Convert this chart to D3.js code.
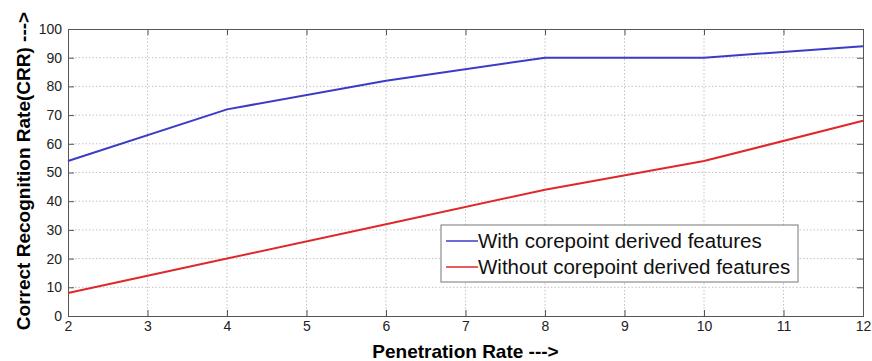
<!DOCTYPE html>
<html>
<head>
<meta charset="utf-8">
<style>
  body { margin: 0; background: #fff; }
  svg { display: block; font-family: "Liberation Sans", Arial, sans-serif; }
</style>
</head>
<body>
<svg id="chart"></svg>
<script src="https://d3js.org/d3.v7.min.js"></script>
<script>
  const penetration = [2, 4, 6, 8, 10, 12];
  const withCore = [54, 72, 82, 90, 90, 94];
  const withoutCore = [8, 20, 32, 44, 54, 68];
  const xTicks = [2, 3, 4, 5, 6, 7, 8, 9, 10, 11, 12];
  const yTicks = [0, 10, 20, 30, 40, 50, 60, 70, 80, 90, 100];
  const seriesNames = ["With corepoint derived features", "Without corepoint derived features"];

  const width = 872, height = 361;
  const margin = { top: 29, right: 9, bottom: 45, left: 68 };

  const svg = d3.select("#chart")
    .attr("width", width)
    .attr("height", height)
    .attr("viewBox", [0, 0, width, height]);

  const x = d3.scaleLinear().domain([2, 12]).range([margin.left, width - margin.right]);
  const y = d3.scaleLinear().domain([0, 100]).range([height - margin.bottom, margin.top]);

  // dotted grid
  const grid = svg.append("g").attr("stroke", "#c4c4c4").attr("stroke-dasharray", "1.5,2");
  grid.selectAll("line.v").data(xTicks.slice(1, -1)).join("line")
    .attr("x1", d => x(d)).attr("x2", d => x(d))
    .attr("y1", y(0)).attr("y2", y(100));
  grid.selectAll("line.h").data(yTicks.slice(1, -1)).join("line")
    .attr("x1", x(2)).attr("x2", x(12))
    .attr("y1", d => y(d)).attr("y2", d => y(d));

  // axes with inward ticks, matlab style box
  const axisColor = "#555";
  svg.append("g")
    .attr("transform", `translate(0,${y(0)})`)
    .call(d3.axisBottom(x).tickValues(xTicks).tickSize(-6).tickPadding(5).tickFormat(d3.format("d")))
    .call(g => g.selectAll("text").attr("font-size", 14).attr("fill", "#222"));
  svg.append("g")
    .attr("transform", `translate(0,${y(100)})`)
    .call(d3.axisTop(x).tickValues(xTicks).tickSize(-6).tickFormat(""));
  svg.append("g")
    .attr("transform", `translate(${x(2)},0)`)
    .call(d3.axisLeft(y).tickValues(yTicks).tickSize(-6).tickPadding(6))
    .call(g => g.selectAll("text").attr("font-size", 14).attr("fill", "#222"));
  svg.append("g")
    .attr("transform", `translate(${x(12)},0)`)
    .call(d3.axisRight(y).tickValues(yTicks).tickSize(-6).tickFormat(""));
  svg.selectAll(".domain").attr("stroke", axisColor);
  svg.selectAll(".tick line").attr("stroke", axisColor);

  const line = d3.line().x(d => x(d[0])).y(d => y(d[1]));
  const colors = ["#3b3bc8", "#e0282a"];
  [withCore, withoutCore].forEach((vals, i) => {
    svg.append("path")
      .datum(penetration.map((p, j) => [p, vals[j]]))
      .attr("fill", "none")
      .attr("stroke", colors[i])
      .attr("stroke-width", 2)
      .attr("d", line);
  });

  // legend
  const lg = svg.append("g").attr("transform", "translate(441,225)");
  lg.append("rect").attr("width", 357).attr("height", 57)
    .attr("fill", "#fff").attr("stroke", "#777");
  seriesNames.forEach((name, i) => {
    const yy = 16 + i * 26;
    lg.append("line").attr("x1", 5).attr("x2", 37).attr("y1", yy).attr("y2", yy)
      .attr("stroke", colors[i]).attr("stroke-width", 1.5);
    lg.append("text").attr("x", 37).attr("y", yy).attr("dy", "0.35em")
      .attr("font-size", 20.5).attr("fill", "#111").text(name);
  });

  // axis titles
  svg.append("text")
    .attr("x", x(7)).attr("y", 358)
    .attr("text-anchor", "middle").attr("font-size", 19).attr("font-weight", "bold")
    .text("Penetration Rate --->");
  svg.append("text")
    .attr("transform", "translate(30,171) rotate(-90)")
    .attr("text-anchor", "middle").attr("font-size", 19).attr("font-weight", "bold")
    .text("Correct Recognition Rate(CRR) --->");
</script>
</body>
</html>
